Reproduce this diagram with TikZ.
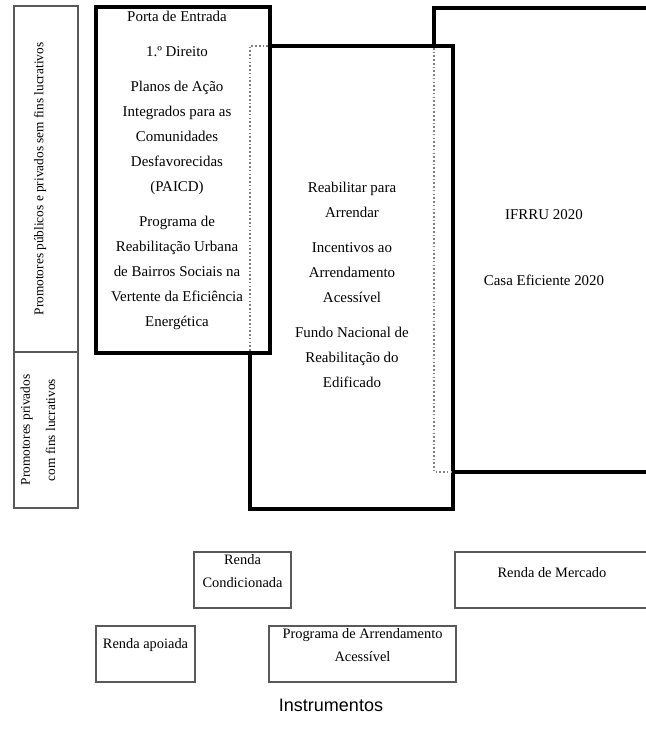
\documentclass[tikz,border=0pt]{standalone}
\usepackage{fontspec}
\setmainfont{Liberation Serif}
\newfontfamily\titulofont{Liberation Sans}
\usetikzlibrary{positioning}

\begin{document}
\begin{tikzpicture}
  [x=0.75pt, y=-0.75pt,
  % caixas
  grosso/.style = {draw, line width=2.8pt},
  fino/.style = {draw=black!65, line width=0.9pt},
  oculto/.style = {draw=black!50, line width=0.8pt,
    dash pattern=on 1.2pt off 1.6pt},
  % textos
  prog/.style = {align=center, inner sep=0pt,
    font=\fontsize{11.2}{18.75}\selectfont},
  instr/.style = {align=center, inner sep=0pt,
    font=\fontsize{10.8}{17.25}\selectfont},
  agente/.style = {align=center, rotate=90, inner sep=0pt,
    font=\fontsize{10}{19}\selectfont},
  ]
  \useasboundingbox (0,0) rectangle (646,740);

  % promotores
  \draw [fino] (14,6) rectangle (78,352);
  \draw [fino] (14,352) rectangle (78,508);
  \node [agente] (semfins) at (40,179) {Promotores públicos e privados sem fins lucrativos};
  \node [agente] (comfins) at (38,430) {Promotores privados\\com fins lucrativos};

  % caixa de mercado (fica por tras)
  \draw [grosso] (434,8) rectangle (652,472);
  % caixa do arrendamento acessivel
  \fill [white] (250,46) rectangle (453,509);
  \draw [grosso] (250,46) rectangle (453,509);
  \draw [oculto] (434,48) |- (451,472);
  % caixa publica
  \fill [white] (96,7) rectangle (270,353);
  \draw [grosso] (96,7) rectangle (270,353);
  \draw [oculto] (268,46) -| (250,351);

  % programas
  \node [prog] (publico) at (177,170) {Porta de Entrada\\[7.5pt]
    1.º Direito\\[7.5pt]
    Planos de Ação\\Integrados para as\\Comunidades\\Desfavorecidas\\(PAICD)\\[7.5pt]
    Programa de\\Reabilitação Urbana\\de Bairros Sociais na\\Vertente da Eficiência\\Energética};
  \node [prog] (acessivel) at (352,284.5) {Reabilitar para\\Arrendar\\[7.5pt]
    Incentivos ao\\Arrendamento\\Acessível\\[7.5pt]
    Fundo Nacional de\\Reabilitação do\\Edificado};
  \node [prog] (ifrru) at (544,215) {IFRRU 2020};
  \node [prog, below=41pt of ifrru] (casa) {Casa Eficiente 2020};

  % instrumentos
  \draw [fino] (194,552) rectangle (291,608);
  \node [instr] (condicionada) at (242.5,571.5) {Renda\\Condicionada};
  \draw [fino] (455,552) rectangle (652,608);
  \node [instr] (mercado) at (552,573) {Renda de Mercado};
  \draw [fino] (96,626) rectangle (195,682);
  \node [instr] (apoiada) at (145.5,645) {Renda apoiada};
  \draw [fino] (269,626) rectangle (456,682);
  \node [instr] (paa) at (362.5,645.5) {Programa de Arrendamento\\Acessível};

  \node [font=\titulofont\fontsize{13.5}{16}\selectfont] (titulo) at (331,705) {Instrumentos};
\end{tikzpicture}
\end{document}
